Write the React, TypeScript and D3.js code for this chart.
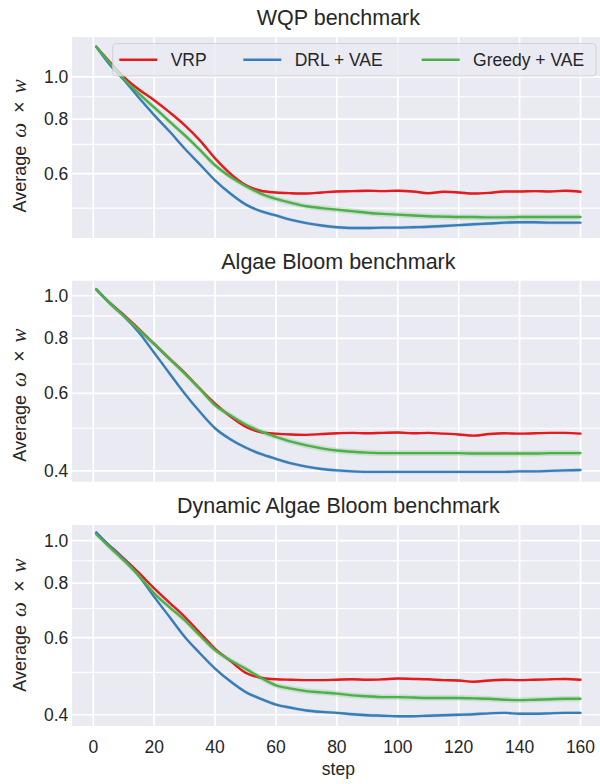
import React from "react";
import * as d3 from "d3";

// ---------- data ----------
const steps = [1, 5, 10, 15, 20, 25, 30, 35, 40, 45, 50, 55, 60, 65, 70, 75, 80, 85, 90, 95, 100, 105, 110, 115, 120, 125, 130, 135, 140, 145, 150, 155, 160];

const seriesNames = ["VRP", "DRL + VAE", "Greedy + VAE"];
const seriesColors = ["#e41a1c", "#377eb8", "#4daf4a"];
const seriesSpread = [0.006, 0.009, 0.015];

const panelTitles = ["WQP benchmark", "Algae Bloom benchmark", "Dynamic Algae Bloom benchmark"];

// WQP benchmark
const wqpVRP = [1.172, 1.09, 1.0, 0.935, 0.884, 0.83, 0.775, 0.715, 0.65, 0.6, 0.565, 0.548, 0.543, 0.541, 0.54, 0.543, 0.546, 0.547, 0.548, 0.547, 0.548, 0.546, 0.541, 0.545, 0.543, 0.54, 0.542, 0.546, 0.546, 0.547, 0.546, 0.548, 0.545];
const wqpDRL = [1.172, 1.075, 0.985, 0.895, 0.817, 0.75, 0.685, 0.63, 0.579, 0.54, 0.51, 0.492, 0.481, 0.47, 0.462, 0.456, 0.452, 0.45, 0.45, 0.451, 0.451, 0.452, 0.453, 0.455, 0.457, 0.459, 0.461, 0.463, 0.464, 0.464, 0.463, 0.463, 0.463];
const wqpGreedy = [1.172, 1.085, 0.99, 0.915, 0.851, 0.79, 0.735, 0.68, 0.627, 0.59, 0.562, 0.54, 0.525, 0.514, 0.505, 0.5, 0.496, 0.492, 0.488, 0.485, 0.483, 0.481, 0.479, 0.478, 0.477, 0.477, 0.476, 0.476, 0.477, 0.477, 0.477, 0.477, 0.477];

// Algae Bloom benchmark
const algaeVRP = [1.034, 0.97, 0.905, 0.84, 0.777, 0.72, 0.668, 0.615, 0.569, 0.532, 0.504, 0.49, 0.486, 0.484, 0.483, 0.485, 0.487, 0.488, 0.487, 0.488, 0.489, 0.487, 0.488, 0.486, 0.484, 0.481, 0.485, 0.487, 0.486, 0.487, 0.488, 0.488, 0.486];
const algaeDRL = [1.034, 0.968, 0.9, 0.825, 0.742, 0.667, 0.6, 0.545, 0.5, 0.472, 0.452, 0.437, 0.426, 0.416, 0.409, 0.404, 0.401, 0.399, 0.398, 0.398, 0.398, 0.398, 0.398, 0.398, 0.398, 0.398, 0.398, 0.398, 0.399, 0.399, 0.4, 0.401, 0.402];
const algaeGreedy = [1.034, 0.968, 0.9, 0.836, 0.777, 0.72, 0.666, 0.614, 0.564, 0.535, 0.51, 0.492, 0.478, 0.466, 0.457, 0.45, 0.445, 0.442, 0.44, 0.439, 0.439, 0.439, 0.439, 0.439, 0.439, 0.438, 0.438, 0.438, 0.438, 0.438, 0.439, 0.439, 0.439];

// Dynamic Algae Bloom benchmark
const dynVRP = [1.04, 0.98, 0.911, 0.844, 0.778, 0.722, 0.67, 0.616, 0.566, 0.531, 0.499, 0.486, 0.482, 0.481, 0.48, 0.48, 0.481, 0.482, 0.481, 0.482, 0.484, 0.483, 0.482, 0.48, 0.479, 0.476, 0.479, 0.481, 0.48, 0.481, 0.482, 0.483, 0.481];
const dynDRL = [1.045, 0.977, 0.906, 0.83, 0.744, 0.67, 0.603, 0.553, 0.51, 0.477, 0.451, 0.435, 0.422, 0.415, 0.409, 0.406, 0.404, 0.401, 0.399, 0.398, 0.397, 0.397, 0.398, 0.399, 0.4, 0.401, 0.403, 0.404, 0.402, 0.402, 0.403, 0.404, 0.404];
const dynGreedy = [1.034, 0.972, 0.902, 0.832, 0.758, 0.705, 0.658, 0.607, 0.562, 0.533, 0.51, 0.486, 0.467, 0.459, 0.453, 0.45, 0.447, 0.443, 0.441, 0.439, 0.439, 0.438, 0.437, 0.437, 0.437, 0.436, 0.435, 0.433, 0.432, 0.433, 0.434, 0.435, 0.435];

const panelSeries = [
  [wqpVRP, wqpDRL, wqpGreedy],
  [algaeVRP, algaeDRL, algaeGreedy],
  [dynVRP, dynDRL, dynGreedy],
];

const yDomains = [
  [0.427, 1.234],
  [0.378, 1.082],
  [0.377, 1.086],
];
const xDomain = [-6.95, 167.95];

const yMajorTicks = [0.4, 0.6, 0.8, 1.0];
const yMinorTicks = [0.5, 0.7, 0.9];
const xTicks = [0, 20, 40, 60, 80, 100, 120, 140, 160];

// ---------- layout ----------
const W = 600;
const H = 784;
const plotLeft = 72.1;
const plotRight = 604.7;
const panelTops = [37, 280.7, 525];
const panelH = 201;
const yLabelCenters = [108.8, 114.3, 100];

const FONT = "'Liberation Sans', Arial, 'DejaVu Sans', sans-serif";
const MATH = "'Liberation Serif', 'DejaVu Serif', serif";
const TEXT = "#262626";
const BG = "#eaeaf2";

function Panel({ idx }: { idx: number }) {
  const top = panelTops[idx];
  const bottom = top + panelH;
  const x = d3.scaleLinear().domain(xDomain).range([plotLeft, plotRight]);
  const y = d3.scaleLog().domain(yDomains[idx]).range([bottom, top]);
  const [lo, hi] = yDomains[idx];
  const majors = yMajorTicks.filter((t) => t >= lo && t <= hi);
  const minors = yMinorTicks.filter((t) => t >= lo && t <= hi);
  const clipId = `clip-${idx}`;

  const line = d3
    .line<number>()
    .x((_, i) => x(steps[i]))
    .y((v) => y(v))
    .curve(d3.curveMonotoneX);

  return (
    <g>
      <defs>
        <clipPath id={clipId}>
          <rect x={plotLeft} y={top} width={plotRight - plotLeft} height={panelH} />
        </clipPath>
      </defs>
      <rect x={plotLeft} y={top} width={plotRight - plotLeft} height={panelH} fill={BG} />
      {minors.map((t) => (
        <line key={"mn" + t} x1={plotLeft} x2={plotRight} y1={y(t)} y2={y(t)} stroke="#fff" strokeWidth={1.1} />
      ))}
      {majors.map((t) => (
        <line key={"mj" + t} x1={plotLeft} x2={plotRight} y1={y(t)} y2={y(t)} stroke="#fff" strokeWidth={1.7} />
      ))}
      {xTicks.map((t) => (
        <line key={"vx" + t} x1={x(t)} x2={x(t)} y1={top} y2={bottom} stroke="#fff" strokeWidth={1.7} />
      ))}
      <g clipPath={`url(#${clipId})`}>
        {panelSeries[idx].map((vals, s) => {
          const area = d3
            .area<number>()
            .x((_, i) => x(steps[i]))
            .y0((v, i) => y(v * (1 - (i === 0 ? 0.002 : seriesSpread[s]))))
            .y1((v, i) => y(v * (1 + (i === 0 ? 0.002 : seriesSpread[s]))))
            .curve(d3.curveMonotoneX);
          return <path key={"a" + s} d={area(vals) || ""} fill={seriesColors[s]} fillOpacity={0.2} stroke="none" />;
        })}
        {panelSeries[idx].map((vals, s) => (
          <path
            key={"l" + s}
            d={line(vals) || ""}
            fill="none"
            stroke={seriesColors[s]}
            strokeWidth={2.4}
            strokeLinejoin="round"
            strokeLinecap="round"
          />
        ))}
      </g>
      {majors.map((t) => (
        <text
          key={"yl" + t}
          x={68.3}
          y={y(t)}
          textAnchor="end"
          dominantBaseline="central"
          fontFamily={FONT}
          fontSize={17.5}
          fill={TEXT}
        >
          {d3.format(".1f")(t)}
        </text>
      ))}
      <text
        x={(plotLeft + plotRight) / 2}
        y={top - 12}
        textAnchor="middle"
        fontFamily={FONT}
        fontSize={21.5}
        fill={TEXT}
      >
        {panelTitles[idx]}
      </text>
      <text
        transform={`translate(${26},${top + yLabelCenters[idx]}) rotate(-90)`}
        textAnchor="middle"
        fontFamily={FONT}
        fontSize={18}
        fill={TEXT}
      >
        <tspan>Average</tspan>
        <tspan dx={8} fontFamily={MATH} fontStyle="italic" fontSize={21}>ω</tspan>
        <tspan dx={10} fontSize={20}>×</tspan>
        <tspan dx={8} fontFamily={MATH} fontStyle="italic" fontSize={21}>w</tspan>
      </text>
      {idx === 2 &&
        xTicks.map((t) => (
          <text
            key={"xl" + t}
            x={x(t)}
            y={753}
            textAnchor="middle"
            fontFamily={FONT}
            fontSize={17.5}
            fill={TEXT}
          >
            {t}
          </text>
        ))}
      {idx === 2 && (
        <text x={(plotLeft + plotRight) / 2} y={775} textAnchor="middle" fontFamily={FONT} fontSize={17.5} fill={TEXT}>
          step
        </text>
      )}
    </g>
  );
}

function Legend() {
  const top = 43.5;
  const bottom = 76;
  const left = 112.7;
  const right = 596;
  const handleX = [119.3, 243.3, 421.7];
  const cy = (top + bottom) / 2;
  return (
    <g>
      <rect
        x={left}
        y={top}
        width={right - left}
        height={bottom - top}
        rx={3.5}
        fill={BG}
        fillOpacity={0.8}
        stroke="#cccccc"
        strokeOpacity={0.8}
        strokeWidth={1}
      />
      {seriesNames.map((n, i) => (
        <g key={n}>
          <line x1={handleX[i]} x2={handleX[i] + 38} y1={cy} y2={cy} stroke={seriesColors[i]} strokeWidth={2.4} />
          <text
            x={handleX[i] + 51.4}
            y={cy}
            dominantBaseline="central"
            fontFamily={FONT}
            fontSize={17.5}
            fill={TEXT}
          >
            {n}
          </text>
        </g>
      ))}
    </g>
  );
}

export default function App() {
  return (
    <svg
      width={W}
      height={H}
      viewBox={`0 0 ${W} ${H}`}
      style={{ position: "absolute", left: 0, top: 0, background: "#fff" }}
    >
      <rect x={0} y={0} width={W} height={H} fill="#fff" />
      {[0, 1, 2].map((i) => (
        <Panel key={i} idx={i} />
      ))}
      <Legend />
    </svg>
  );
}
